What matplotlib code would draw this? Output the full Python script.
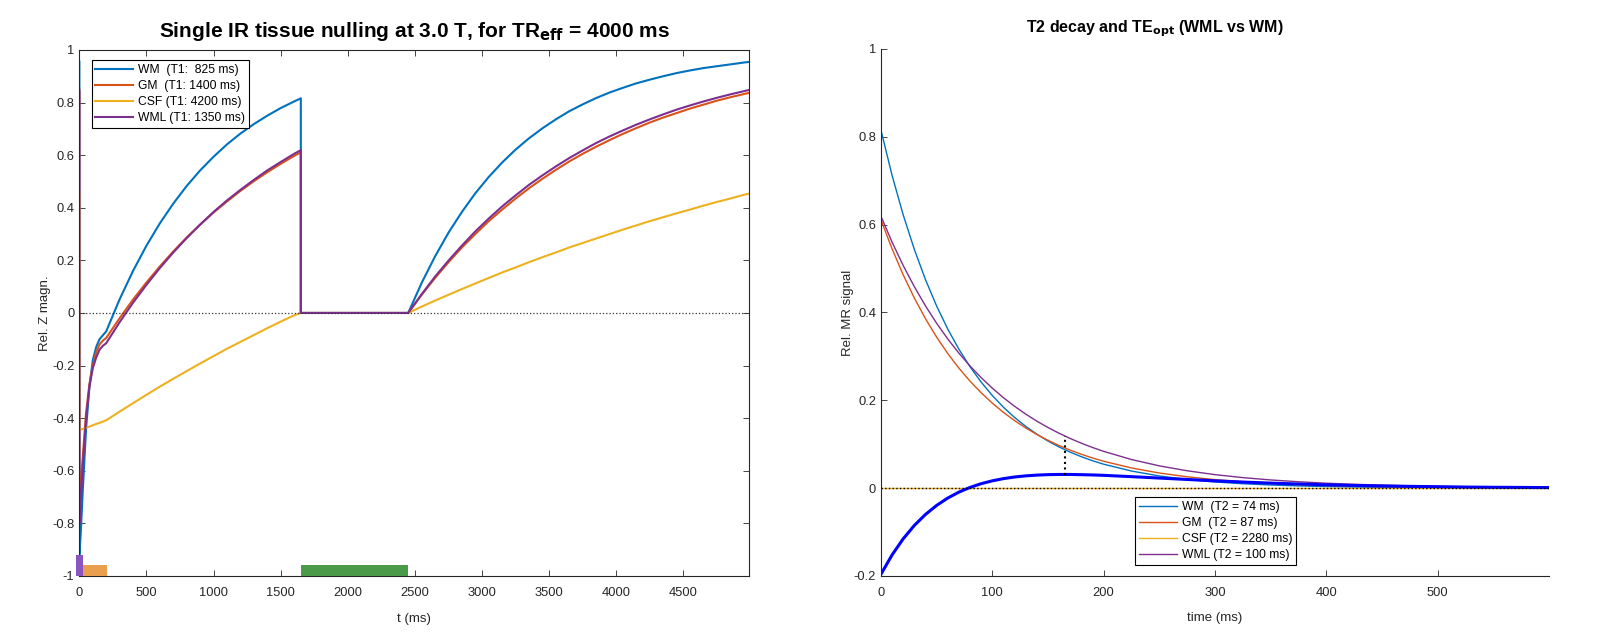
import numpy as np
import matplotlib
matplotlib.use("Agg")
import matplotlib.pyplot as plt

plt.rcParams['font.family'] = ['Liberation Sans', 'DejaVu Sans']

# colours (MATLAB default order)
c_wm = '#0072BD'
c_gm = '#D95319'
c_csf = '#EDB120'
c_wml = '#7E2F8E'

# ---------------- left panel: single IR, longitudinal magnetisation ----------------
t_ir = [0, 0, 10, 25, 50, 75, 100, 125, 150, 175, 200,
        300, 400, 500, 600, 700, 800, 900, 1000, 1100, 1200, 1300, 1400, 1500, 1600, 1650, 1650,
        2450,
        2550, 2650, 2750, 2850, 2950, 3050, 3150, 3250, 3350, 3450, 3550, 3650, 3750,
        3850, 3950, 4050, 4150, 4250, 4350, 4450, 4550, 4650, 4750, 4850, 4950, 5000]

mz_wm = [0.955, -0.92, -0.84, -0.68, -0.44, -0.28, -0.18, -0.13, -0.10, -0.085, -0.07,
         0.052, 0.160, 0.256, 0.341, 0.416, 0.483, 0.542, 0.594, 0.641, 0.682, 0.718, 0.750, 0.779, 0.804, 0.816, 0.0,
         0.0,
         0.114, 0.215, 0.305, 0.384, 0.455, 0.517, 0.572, 0.621, 0.664, 0.702, 0.736, 0.767, 0.793,
         0.817, 0.838, 0.856, 0.873, 0.887, 0.900, 0.912, 0.922, 0.931, 0.938, 0.945, 0.952, 0.955]

mz_gm = [0.838, -0.72, -0.66, -0.55, -0.38, -0.27, -0.20, -0.15, -0.12, -0.105, -0.095,
         -0.020, 0.051, 0.116, 0.177, 0.234, 0.287, 0.336, 0.382, 0.424, 0.464, 0.501, 0.535, 0.567, 0.597, 0.611, 0.0,
         0.0,
         0.069, 0.133, 0.193, 0.249, 0.300, 0.349, 0.393, 0.435, 0.474, 0.510, 0.544, 0.576, 0.605,
         0.632, 0.657, 0.681, 0.703, 0.724, 0.743, 0.760, 0.777, 0.792, 0.807, 0.820, 0.832, 0.838]

mz_csf = [0.455, -0.445, -0.443, -0.441, -0.436, -0.432, -0.427, -0.422, -0.418, -0.413, -0.408,
          -0.375, -0.343, -0.311, -0.280, -0.250, -0.221, -0.192, -0.164, -0.136, -0.110, -0.084, -0.058, -0.033, -0.009, 0.0, 0.0,
          0.0,
          0.024, 0.047, 0.069, 0.091, 0.112, 0.133, 0.154, 0.173, 0.193, 0.212, 0.230, 0.249, 0.266,
          0.283, 0.300, 0.317, 0.333, 0.349, 0.364, 0.379, 0.393, 0.408, 0.422, 0.435, 0.449, 0.455]

mz_wml = [0.849, -0.80, -0.72, -0.58, -0.40, -0.28, -0.21, -0.17, -0.14, -0.125, -0.115,
          -0.035, 0.039, 0.107, 0.171, 0.230, 0.285, 0.336, 0.384, 0.428, 0.468, 0.506, 0.542, 0.574, 0.605, 0.619, 0.0,
          0.0,
          0.071, 0.138, 0.199, 0.256, 0.310, 0.359, 0.405, 0.447, 0.487, 0.523, 0.557, 0.589, 0.618,
          0.646, 0.671, 0.694, 0.716, 0.736, 0.755, 0.773, 0.789, 0.804, 0.818, 0.831, 0.843, 0.849]

labels_t1 = ['WM  (T1:  825 ms)', 'GM  (T1: 1400 ms)', 'CSF (T1: 4200 ms)', 'WML (T1: 1350 ms)']

# sequence events (start, duration) in ms
ev_inv = (-25, 50)
ev_prep = (30, 175)
ev_read = (1650, 800)

left_yticks = [-1, -0.8, -0.6, -0.4, -0.2, 0, 0.2, 0.4, 0.6, 0.8, 1]

# ---------------- right panel: T2 decay ----------------
t_te = [0, 10, 20, 30, 40, 50, 60, 70, 80, 90, 100, 110, 120, 130, 140, 150, 160, 170, 180, 190, 200,
        225, 250, 275, 300, 325, 350, 375, 400, 425, 450, 475, 500, 525, 550, 575, 600]

s_wm = [0.815, 0.7120, 0.6220, 0.5434, 0.4747, 0.4147, 0.3622, 0.3164, 0.2764, 0.2415, 0.2110,
        0.1843, 0.1610, 0.1407, 0.1229, 0.1073, 0.0938, 0.0819, 0.0716, 0.0625, 0.0546,
        0.0390, 0.0278, 0.0198, 0.0141, 0.0101, 0.0072, 0.0051, 0.0037, 0.0026, 0.0019,
        0.0013, 0.0009, 0.0007, 0.0005, 0.0003, 0.0002]

s_gm = [0.611, 0.5447, 0.4855, 0.4328, 0.3858, 0.3439, 0.3066, 0.2733, 0.2436, 0.2172, 0.1936,
        0.1726, 0.1538, 0.1371, 0.1222, 0.1090, 0.0971, 0.0866, 0.0772, 0.0688, 0.0613,
        0.0460, 0.0345, 0.0259, 0.0194, 0.0146, 0.0109, 0.0082, 0.0062, 0.0046, 0.0035,
        0.0026, 0.0019, 0.0015, 0.0011, 0.0008, 0.0006]

s_csf = [0.0] * 37

s_wml = [0.619, 0.5601, 0.5068, 0.4586, 0.4149, 0.3754, 0.3397, 0.3074, 0.2781, 0.2517, 0.2277,
         0.2060, 0.1864, 0.1687, 0.1526, 0.1381, 0.1250, 0.1131, 0.1023, 0.0926, 0.0838,
         0.0652, 0.0508, 0.0396, 0.0308, 0.0240, 0.0187, 0.0146, 0.0113, 0.0088, 0.0069,
         0.0054, 0.0042, 0.0032, 0.0025, 0.0020, 0.0015]

# contrast WML - WM
s_diff = [-0.196, -0.1519, -0.1152, -0.0848, -0.0598, -0.0393, -0.0225, -0.0090, 0.0017, 0.0102, 0.0167,
          0.0217, 0.0254, 0.0280, 0.0297, 0.0308, 0.0312, 0.0312, 0.0307, 0.0301, 0.0292,
          0.0262, 0.0230, 0.0198, 0.0167, 0.0139, 0.0115, 0.0095, 0.0076, 0.0062, 0.0050,
          0.0041, 0.0033, 0.0025, 0.0020, 0.0017, 0.0013]

te_opt = 165
te_opt_lo = 0.031
te_opt_hi = 0.119

labels_t2 = ['WM  (T2 = 74 ms)', 'GM  (T2 = 87 ms)', 'CSF (T2 = 2280 ms)', 'WML (T2 = 100 ms)']
right_yticks = [-0.2, 0, 0.2, 0.4, 0.6, 0.8, 1]

# ---------------- figure ----------------
fig = plt.figure(figsize=(16, 6.4), dpi=100)
ax1 = fig.add_axes([0.0496, 0.1, 0.4186, 0.822])
ax2 = fig.add_axes([0.5506, 0.1, 0.4175, 0.8235])

axcol = '#262626'
tick_fs = 9.3
lab_fs = 9.5
leg_kw = dict(fontsize=8.7, handlelength=3.1, handletextpad=0.45, labelspacing=0.33,
              borderpad=0.3, borderaxespad=0, fancybox=False, framealpha=1, edgecolor='black')

# left
for y, c, lab in zip([mz_wm, mz_gm, mz_csf, mz_wml], [c_wm, c_gm, c_csf, c_wml], labels_t1):
    ax1.plot(t_ir, y, color=c, lw=1.5, label=lab)
ax1.plot([0, 5000], [0, 0], ':', color='#333333', lw=0.9, zorder=5)
ax1.broken_barh([ev_prep], (-1, 0.04), facecolors='#E8A050', zorder=3)
ax1.broken_barh([ev_read], (-1, 0.04), facecolors='#4A9A4A', zorder=3)
ax1.broken_barh([ev_inv], (-1, 0.08), facecolors='#8A55C0', zorder=4, clip_on=False)

ax1.set_xlim(0, 4990)
ax1.set_ylim(-1, 1)
ax1.set_xticks(np.arange(0, 4501, 500))
ax1.set_yticks(left_yticks)
ax1.set_yticklabels(['%g' % v for v in left_yticks])
ax1.tick_params(direction='in', top=True, right=True, labelsize=tick_fs, colors=axcol, length=4, width=0.6)
ax1.tick_params(axis='x', pad=8)
for s in ax1.spines.values():
    s.set_color(axcol)
    s.set_linewidth(0.8)
ax1.set_xlabel('t (ms)', fontsize=lab_fs, color=axcol, labelpad=10)
ax1.set_ylabel('Rel. Z magn.', fontsize=lab_fs, color=axcol, labelpad=1)
ax1.set_title(r'Single IR tissue nulling at 3.0 T, for TR$_{\mathbf{eff}}$ = 4000 ms',
              fontsize=15, fontweight='bold', pad=9)
leg1 = ax1.legend(loc='upper left', bbox_to_anchor=(0.0185, 0.98), **leg_kw)
leg1.get_frame().set_linewidth(0.8)

# right
for y, c, lab in zip([s_wm, s_gm, s_csf, s_wml], [c_wm, c_gm, c_csf, c_wml], labels_t2):
    ax2.plot(t_te, y, color=c, lw=1.0, label=lab)
ax2.plot(t_te, s_diff, color='#0000FF', lw=2.2)
ax2.plot([0, 600], [0, 0], ':', color='black', lw=1.0)
ax2.plot([te_opt, te_opt], [te_opt_lo, te_opt_hi], ':', color='black', lw=1.5)

ax2.set_xlim(0, 600)
ax2.set_ylim(-0.2, 1)
ax2.set_xticks(np.arange(0, 501, 100))
ax2.set_yticks(right_yticks)
ax2.set_yticklabels(['%g' % v for v in right_yticks])
ax2.tick_params(direction='in', labelsize=tick_fs, colors=axcol, length=4, width=0.6)
ax2.tick_params(axis='x', pad=8)
ax2.spines['top'].set_visible(False)
ax2.spines['right'].set_visible(False)
for s in ['left', 'bottom']:
    ax2.spines[s].set_color(axcol)
    ax2.spines[s].set_linewidth(0.8)
ax2.set_xlabel('time (ms)', fontsize=lab_fs, color=axcol, labelpad=9)
ax2.set_ylabel('Rel. MR signal', fontsize=lab_fs, color=axcol, labelpad=0)
ax2.set_title(r'T2 decay and TE$_{\mathbf{opt}}$ (WML vs WM)', fontsize=11.5, fontweight='bold',
              x=0.41, pad=12)
leg2 = ax2.legend(loc='upper left', bbox_to_anchor=(0.381, 0.149), **leg_kw)
leg2.get_frame().set_linewidth(0.8)

fig.savefig('out.png', dpi=100, facecolor='white')
